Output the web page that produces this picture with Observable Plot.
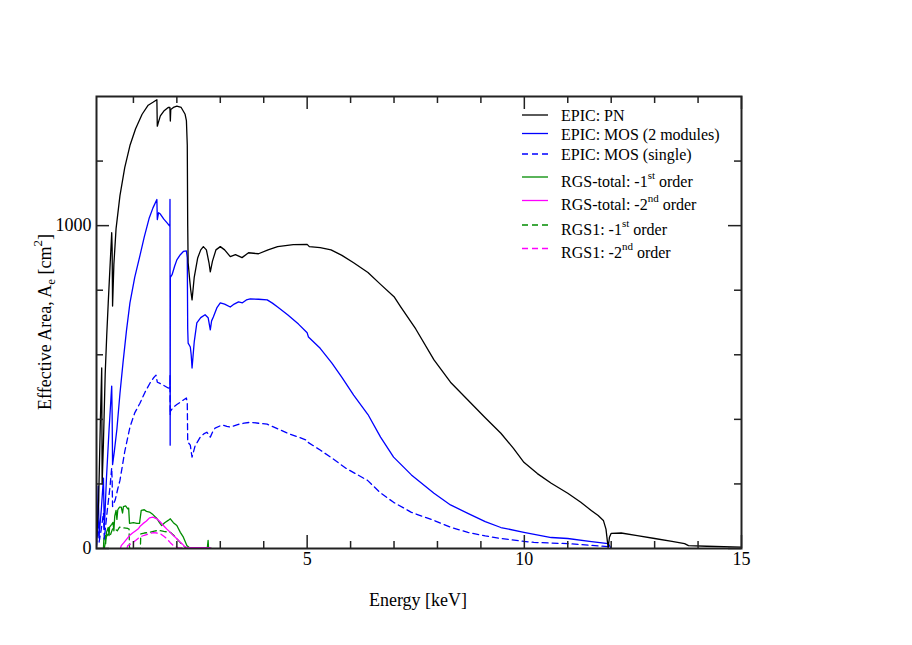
<!DOCTYPE html>
<html><head><meta charset="utf-8">
<script src="https://cdn.jsdelivr.net/npm/d3@7"></script>
<script src="https://cdn.jsdelivr.net/npm/@observablehq/plot@0.6"></script>
<style>body{margin:0;background:#fff;}</style>
</head><body><div id="chart"></div>
<script>
// ---- data: [energy keV, effective area cm^2] ----
const pn = [[0.15,20],[0.20,150],[0.24,400],[0.27,559],[0.28,200],[0.31,330],[0.35,540],[0.385,658],[0.42,760],[0.46,870],[0.49,950],[0.50,978],[0.51,930],[0.52,751],[0.55,880],[0.60,990],[0.69,1093],[0.80,1180],[0.92,1248],[1.05,1300],[1.20,1345],[1.34,1373],[1.45,1382],[1.54,1390],[1.55,1308],[1.58,1322],[1.62,1340],[1.70,1355],[1.80,1366],[1.84,1366],[1.85,1324],[1.86,1360],[1.92,1366],[2.00,1370],[2.10,1366],[2.19,1345],[2.22,1325],[2.24,1250],[2.25,1000],[2.26,885],[2.29,840],[2.32,800],[2.35,770],[2.40,840],[2.48,900],[2.55,925],[2.61,935],[2.68,925],[2.74,885],[2.77,857],[2.82,890],[2.90,925],[3.00,935],[3.10,925],[3.23,904],[3.35,910],[3.50,901],[3.65,916],[3.88,913],[4.10,925],[4.32,935],[4.50,938],[4.68,941],[5.00,942],[5.05,935],[5.30,932],[5.55,925],[5.80,908],[6.07,885],[6.40,855],[6.69,818],[7.00,780],[7.15,749],[7.50,680],[7.92,584],[8.30,515],[8.70,460],[9.10,405],[9.46,357],[9.75,310],[9.99,267],[10.30,232],[10.62,202],[11.00,171],[11.30,143],[11.54,118],[11.70,102],[11.82,87],[11.88,60],[11.91,25],[11.93,2],[11.96,35],[12.00,47],[12.23,48],[12.60,40],[13.00,31],[13.40,22],[13.69,15],[13.78,9],[14.20,7],[15.00,4]];

const mos2 = [[0.15,10],[0.19,193],[0.21,40],[0.26,120],[0.31,218],[0.33,60],[0.38,220],[0.44,370],[0.50,503],[0.51,420],[0.52,260],[0.56,300],[0.62,370],[0.69,480],[0.76,575],[0.84,675],[0.92,761],[1.03,840],[1.15,907],[1.25,965],[1.36,1022],[1.45,1055],[1.54,1081],[1.55,1019],[1.58,1040],[1.62,1036],[1.70,1020],[1.78,1008],[1.84,998],[1.842,1081],[1.846,320],[1.85,840],[1.89,848],[1.95,875],[2.00,894],[2.08,910],[2.15,920],[2.22,922],[2.24,900],[2.25,680],[2.26,636],[2.31,624],[2.33,600],[2.35,559],[2.40,640],[2.46,699],[2.55,715],[2.65,724],[2.72,715],[2.77,677],[2.80,705],[2.84,717],[2.92,745],[3.00,761],[3.10,757],[3.23,748],[3.32,757],[3.42,764],[3.51,761],[3.60,770],[3.69,773],[3.88,772],[4.08,770],[4.20,760],[4.32,748],[4.55,724],[4.80,695],[5.00,668],[5.03,655],[5.30,620],[5.57,574],[5.80,530],[6.07,475],[6.40,415],[6.69,345],[6.99,283],[7.40,228],[7.92,171],[8.30,135],[8.70,109],[9.10,83],[9.46,65],[9.99,50],[10.62,34],[11.00,31],[11.50,22],[11.93,15],[12.00,0]];

const mos1 = [[0.15,5],[0.19,90],[0.21,20],[0.26,60],[0.31,110],[0.33,30],[0.40,120],[0.46,190],[0.50,250],[0.51,210],[0.52,130],[0.58,150],[0.64,185],[0.69,211],[0.80,300],[0.92,376],[1.03,420],[1.15,450],[1.27,485],[1.38,512],[1.46,528],[1.52,537],[1.55,515],[1.60,512],[1.70,505],[1.80,497],[1.84,498],[1.842,537],[1.846,413],[1.85,425],[1.92,438],[2.00,446],[2.08,453],[2.15,460],[2.22,466],[2.24,450],[2.25,330],[2.31,320],[2.33,300],[2.35,283],[2.42,318],[2.54,345],[2.62,355],[2.69,360],[2.74,352],[2.77,345],[2.82,360],[2.88,373],[3.00,380],[3.07,382],[3.15,378],[3.23,376],[3.40,384],[3.55,388],[3.69,391],[3.88,388],[4.08,385],[4.30,372],[4.55,357],[4.80,345],[5.00,335],[5.03,328],[5.30,305],[5.54,283],[5.90,248],[6.39,211],[6.69,172],[6.99,143],[7.40,112],[7.92,87],[8.30,66],[8.70,50],[9.10,39],[9.46,31],[9.99,22],[10.22,19],[11.00,15],[11.50,10],[11.93,6],[12.00,0]];

const rgsTotal1 = [[0.31,0],[0.32,31],[0.35,40],[0.36,15],[0.38,50],[0.42,65],[0.44,40],[0.45,66],[0.50,75],[0.53,81],[0.55,55],[0.57,100],[0.60,118],[0.62,90],[0.64,120],[0.68,128],[0.72,128],[0.75,110],[0.77,130],[0.82,132],[0.87,123],[0.89,125],[0.91,78],[1.00,80],[1.08,78],[1.14,78],[1.18,118],[1.25,120],[1.30,115],[1.37,113],[1.45,105],[1.54,93],[1.60,80],[1.65,71],[1.72,80],[1.80,87],[1.85,92],[1.92,80],[2.00,71],[2.08,50],[2.15,35],[2.23,9],[2.31,0],[2.70,0],[2.72,25],[2.73,0],[2.80,0]];

const rgsTotal2 = [[0.70,0],[0.72,9],[0.78,18],[0.85,30],[0.91,40],[0.98,48],[1.06,56],[1.12,62],[1.16,70],[1.22,77],[1.30,85],[1.37,95],[1.45,97],[1.54,92],[1.62,82],[1.69,71],[1.77,60],[1.85,50],[1.92,40],[2.00,30],[2.06,22],[2.12,15],[2.18,6],[2.25,3],[2.77,3]];

const rgs1Order1 = [[0.33,0],[0.37,35],[0.42,45],[0.46,38],[0.52,61],[0.58,60],[0.63,55],[0.68,66],[0.78,64],[0.87,62],[0.90,60],[0.91,0],[1.16,0],[1.17,45],[1.25,48],[1.38,50],[1.48,54],[1.58,56],[1.70,53],[1.85,50],[1.92,42],[2.00,30],[2.08,18],[2.15,9],[2.22,0]];

const rgs1Order2 = [[0.85,0],[0.87,9],[0.95,15],[1.05,25],[1.14,35],[1.25,41],[1.37,46],[1.46,49],[1.54,48],[1.62,46],[1.70,38],[1.77,30],[1.85,18],[1.92,9],[2.04,2],[2.20,1]];

const seriesNames = ["EPIC: PN","EPIC: MOS (2 modules)","EPIC: MOS (single)","RGS-total: -1st order","RGS-total: -2nd order","RGS1: -1st order","RGS1: -2nd order"];
// legend label parts: [before, superscript, after]
const legendLabels = [["EPIC: PN","",""],["EPIC: MOS (2 modules)","",""],["EPIC: MOS (single)","",""],["RGS-total: -1","st"," order"],["RGS-total: -2","nd"," order"],["RGS1: -1","st"," order"],["RGS1: -2","nd"," order"]];

const xMajorTicks = [5,10,15];
const xMinorTicks = [1,2,3,4,6,7,8,9,11,12,13,14];
const yMajorTicks = [0,1000];
const yMinorTicks = [200,400,600,800,1200];
const xTitle = "Energy [keV]";
const yTitleParts = ["Effective Area, A","e"," [cm","2","]"];

// ---- styling ----
const FONT = "'Liberation Serif','DejaVu Serif',serif";
const W = 912, H = 645, mL = 96, mR = 171, mT = 96, mB = 97;
const fw = W - mL - mR, fh = H - mT - mB;
const GREEN = "#008c00", MAG = "#ff00ff", BLUE = "#0000ff";
const styles = [
  {data: pn, color: "#000", dash: null},
  {data: mos2, color: BLUE, dash: null},
  {data: mos1, color: BLUE, dash: "6,4"},
  {data: rgsTotal1, color: GREEN, dash: null},
  {data: rgsTotal2, color: MAG, dash: null},
  {data: rgs1Order1, color: GREEN, dash: "6,4"},
  {data: rgs1Order2, color: MAG, dash: "6,4"}
];
const drawOrder = [3,5,4,6,2,1,0];

const chart = Plot.plot({
  width: W, height: H,
  marginLeft: mL, marginRight: mR, marginTop: mT, marginBottom: mB,
  x: {domain: [0.15, 15], axis: null},
  y: {domain: [0, 1400], axis: null},
  style: {background: "#fff", fontFamily: FONT, color: "#000"},
  marks: [
    ...drawOrder.map(i => Plot.line(styles[i].data, {
      x: d => d[0], y: d => d[1], stroke: styles[i].color,
      strokeWidth: 1.3, strokeDasharray: styles[i].dash, clip: true
    })),
    // ticks (inward, mirrored on all sides)
    Plot.tickX(xMinorTicks, {x: d => d, insetTop: fh - 7, stroke: "#222", strokeWidth: 1.5}),
    Plot.tickX(xMinorTicks, {x: d => d, insetBottom: fh - 7, stroke: "#222", strokeWidth: 1.5}),
    Plot.tickX(xMajorTicks, {x: d => d, insetTop: fh - 13, stroke: "#222", strokeWidth: 1.5}),
    Plot.tickX(xMajorTicks, {x: d => d, insetBottom: fh - 13, stroke: "#222", strokeWidth: 1.5}),
    Plot.tickY(yMinorTicks, {y: d => d, insetRight: fw - 7, stroke: "#222", strokeWidth: 1.5}),
    Plot.tickY(yMinorTicks, {y: d => d, insetLeft: fw - 7, stroke: "#222", strokeWidth: 1.5}),
    Plot.tickY(yMajorTicks, {y: d => d, insetRight: fw - 13, stroke: "#222", strokeWidth: 1.5}),
    Plot.tickY(yMajorTicks, {y: d => d, insetLeft: fw - 13, stroke: "#222", strokeWidth: 1.5}),
    Plot.frame({stroke: "#222", strokeWidth: 2}),
    Plot.text(xMajorTicks, {x: d => d, text: d => String(d), frameAnchor: "bottom", dy: 16, fontSize: 18, fill: "#000"}),
    Plot.text(yMajorTicks, {y: d => d, text: d => String(d), frameAnchor: "left", dx: -5, textAnchor: "end", fontSize: 18, fill: "#000"})
  ]
});
document.getElementById("chart").appendChild(chart);

const svg = d3.select(chart);
// x title
svg.append("text").attr("x", 418).attr("y", 606).attr("text-anchor", "middle")
  .attr("font-family", FONT).attr("font-size", 18).attr("fill", "#000").text(xTitle);
// y title with subscript / superscript
const yt = svg.append("text").attr("transform", "translate(51,322) rotate(-90)")
  .attr("text-anchor", "middle").attr("font-family", FONT).attr("font-size", 18).attr("fill", "#000");
yt.append("tspan").text(yTitleParts[0]);
yt.append("tspan").attr("font-size", 13).attr("dy", 4).text(yTitleParts[1]);
yt.append("tspan").attr("dy", -4).text(yTitleParts[2]);
yt.append("tspan").attr("font-size", 13).attr("dy", -9).text(yTitleParts[3]);
yt.append("tspan").attr("dy", 9).text(yTitleParts[4]);

// legend
const lineY = [115, 133.5, 154, 177, 200.5, 225, 248.5];
const leg = svg.append("g").attr("font-family", FONT).attr("font-size", 16)
  .attr("fill", "#000").attr("text-anchor", "start");
legendLabels.forEach((parts, i) => {
  const s = styles[i];
  const y = lineY[i];
  leg.append("line").attr("x1", 522).attr("x2", 548).attr("y1", y).attr("y2", y)
    .attr("stroke", s.color).attr("stroke-width", 1.3)
    .attr("stroke-dasharray", s.dash ? "6,4" : null);
  const t = leg.append("text").attr("x", 561).attr("y", y + (parts[1] ? 9.5 : 6))
    .attr("text-anchor", "start");
  t.append("tspan").text(parts[0]);
  if (parts[1]) {
    t.append("tspan").attr("font-size", 11).attr("dy", -8).text(parts[1]);
    t.append("tspan").attr("dy", 8).text(parts[2]);
  }
});
</script></body></html>
